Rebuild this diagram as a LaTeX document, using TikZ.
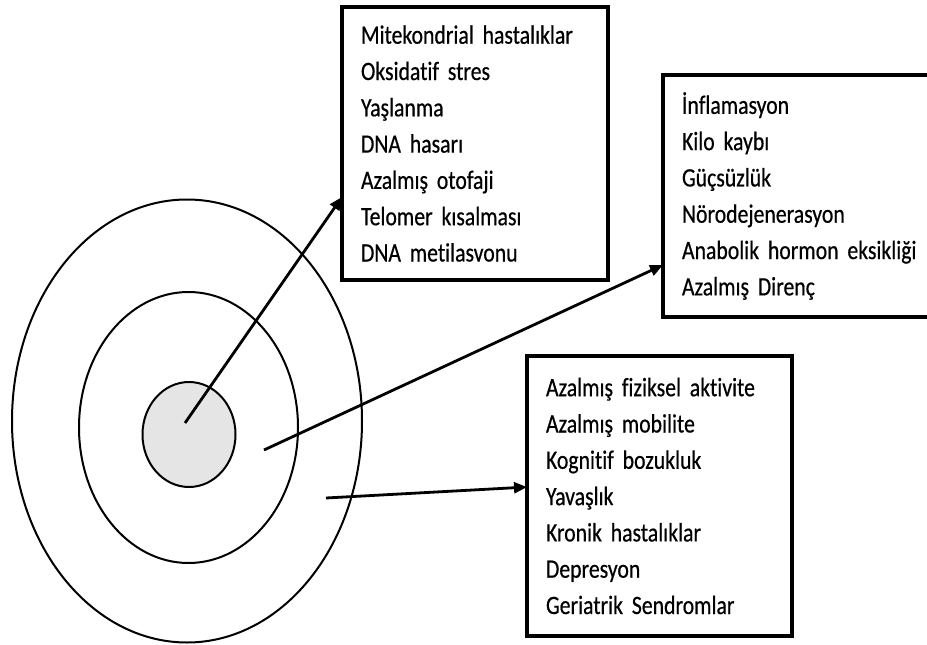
\documentclass[tikz,border=0pt]{standalone}
\usepackage{fontspec}
\setmainfont{Carlito}[FakeStretch=0.82, WordSpace=0.6, FakeBold=0.5, Ligatures={NoCommon}]
\usetikzlibrary{arrows.meta,shapes.geometric,calc}
\tikzset{
    ring/.style={ellipse, draw, line width=2pt, inner sep=0pt},
    listbox/.style={draw, line width=3.5pt, anchor=north west, outer sep=0pt,
        align=left, inner xsep=19pt, font=\fontsize{26.5}{36.3}\selectfont},
    pointer/.style={line width=2.8pt, -{Triangle[length=13pt,width=11pt]}}
}
\begin{document}
\begin{tikzpicture}[x=1pt,y=-1pt]
        \useasboundingbox (0,0) rectangle (927,645);
        \node[ring, minimum width=350pt, minimum height=443pt] (outer) at (187,421) {};
        \node[ring, minimum width=219pt, minimum height=271pt] (middle) at (188.5,427.5) {};
        \node[ring, fill=black!10, minimum width=93pt, minimum height=105pt] (core) at (189,434.5) {};
        \node[listbox, text width=228pt, minimum height=273pt] (box1) at (342,7)
            {Mitekondrial hastalıklar\\ Oksidatif stres\\ Yaşlanma\\ DNA hasarı\\
             Azalmış otofaji\\ Telomer kısalması\\ DNA metilasvonu};
        \node[listbox, text width=250pt, minimum height=242pt] (box2) at (663,75)
            {İnflamasyon\\ Kilo kaybı\\ Güçsüzlük\\ Nörodejenerasyon\\
             Anabolik hormon eksikliği\\ Azalmış Direnç};
        \node[listbox, text width=227pt, minimum height=280pt] (box3) at (527,356)
            {Azalmış fiziksel aktivite\\ Azalmış mobilite\\ Kognitif bozukluk\\ Yavaşlık\\
             Kronik hastalıklar\\ Depresyon\\ Geriatrik Sendromlar};
        \coordinate (s1) at (185,423);
        \coordinate (s2) at (264,450);
        \coordinate (s3) at (326,498);
        \draw[pointer] (s1) -- ($(box1.north west)!0.696!(box1.south west)$);
        \draw[pointer] (s2) -- ($(box2.north west)!0.785!(box2.south west)$);
        \draw[pointer] (s3) -- ($(box3.north west)!0.468!(box3.south west)$);
\end{tikzpicture}
\end{document}
